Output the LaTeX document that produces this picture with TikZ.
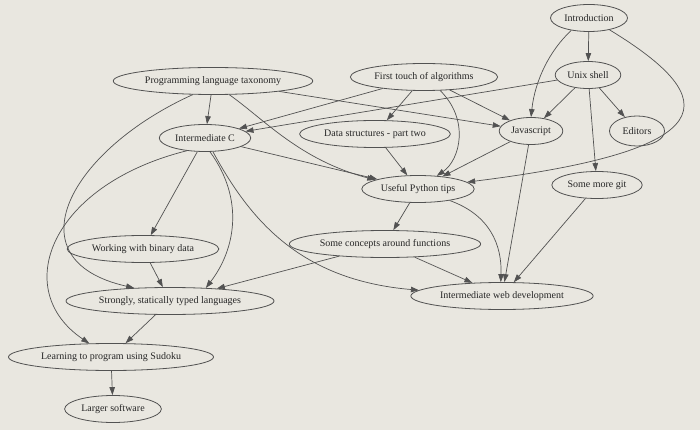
\documentclass[tikz,border=0pt]{standalone}
\usepackage{fontspec}
\setmainfont{Liberation Serif}
\usetikzlibrary{shapes.geometric,arrows.meta}
\definecolor{papercol}{HTML}{E9E7E0}
\definecolor{inkcol}{HTML}{525252}
\definecolor{textcol}{HTML}{262626}

\begin{document}
\begin{tikzpicture}[
  x=1pt, y=-1pt,
  topic/.style={
    ellipse, draw=inkcol, line width=0.8pt, inner xsep=2.5pt, inner ysep=1pt,
    minimum width=55pt, minimum height=27pt, text=textcol,
    font=\fontsize{10}{12}\selectfont,
  },
  arrow/.style={-{Triangle[length=8pt,width=5.5pt]}, line width=0.7pt, draw=inkcol},
]

% ============================================================
% PAPER
% ============================================================
\useasboundingbox (0,0) rectangle (700,430);
\fill[papercol] (0,0) rectangle (700,430);

% ============================================================
% TOPICS
% ============================================================
\node[topic] (intro) at (589,18) {Introduction};
\node[topic] (unix) at (588,75) {Unix shell};
\node[topic, minimum height=30pt] (editors) at (637,131) {Editors};

\node[topic] (plt) at (213,81) {Programming language taxonomy};
\node[topic] (algo) at (424,77) {First touch of algorithms};

\node[topic] (intc) at (205,138) {Intermediate C};
\node[topic] (dstruct) at (375,134) {Data structures - part two};
\node[topic] (js) at (531,131) {Javascript};

\node[topic] (python) at (418,189) {Useful Python tips};
\node[topic] (git) at (597,185) {Some more git};

\node[topic] (binary) at (143,249) {Working with binary data};
\node[topic] (concepts) at (385,244) {Some concepts around functions};

\node[topic] (webdev) at (502,296) {Intermediate web development};
\node[topic] (typed) at (170,301) {Strongly, statically typed languages};

\node[topic] (sudoku) at (111,357) {Learning to program using Sudoku};
\node[topic] (larger) at (113,409) {Larger software};

% ============================================================
% DEPENDENCIES
% ============================================================
\draw[arrow] (intro) -- (unix);
\draw[arrow] (intro.215) .. controls (550,50) and (535,80) .. (js.90);
\draw[arrow] (intro.-30) .. controls (725,100) and (725,150) .. (python.8);

\draw[arrow] (unix) -- (js);
\draw[arrow] (unix) -- (editors);
\draw[arrow] (unix) -- (git);
\draw[arrow] (unix) -- (intc);

\draw[arrow] (plt) -- (intc);
\draw[arrow] (plt) -- (js);
\draw[arrow] (plt.-40) .. controls (265,120) and (300,160) .. (python.168);
\draw[arrow] (plt.214) .. controls (70,150) and (10,260) .. (typed.160);

\draw[arrow] (algo) -- (dstruct);
\draw[arrow] (algo) -- (js);
\draw[arrow] (algo) -- (intc);
\draw[arrow] (algo.-40) .. controls (470,120) and (460,160) .. (python.35);

\draw[arrow] (intc) -- (binary);
\draw[arrow] (intc) -- (python);
\draw[arrow] (intc.215) .. controls (50,185) and (10,290) .. (sudoku.148);
\draw[arrow] (intc.-70) .. controls (245,200) and (235,250) .. (typed.20);
\draw[arrow] (intc.-60) .. controls (250,220) and (300,280) .. (webdev.176);

\draw[arrow] (dstruct) -- (python);
\draw[arrow] (js) -- (python);
\draw[arrow] (js) -- (webdev);

\draw[arrow] (python) -- (concepts);
\draw[arrow] (python.-20) .. controls (490,215) and (502,245) .. (webdev.95);
\draw[arrow] (git) -- (webdev);

\draw[arrow] (concepts) -- (webdev);
\draw[arrow] (concepts) -- (typed);
\draw[arrow] (binary) -- (typed);

\draw[arrow] (typed) -- (sudoku);
\draw[arrow] (sudoku) -- (larger);

\end{tikzpicture}
\end{document}
